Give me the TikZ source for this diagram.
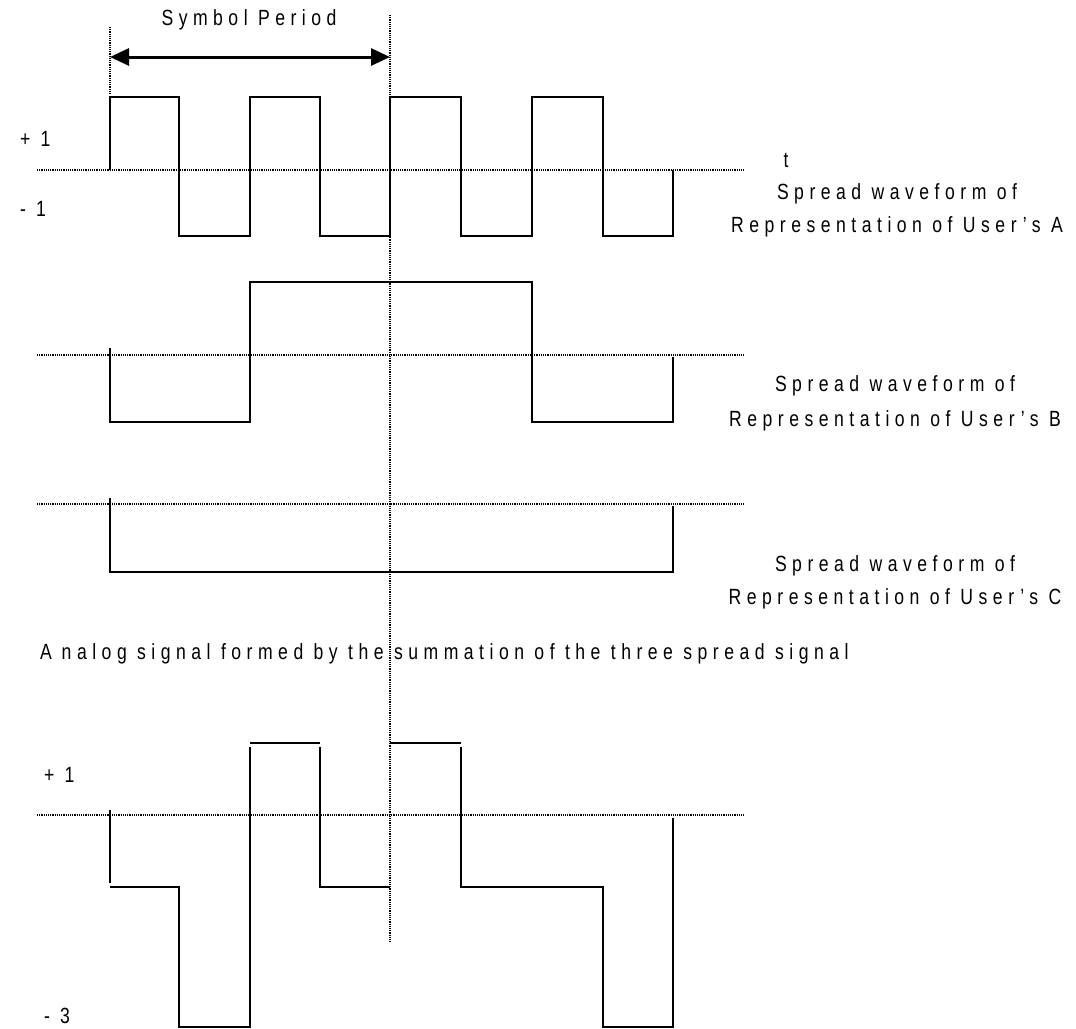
\documentclass[tikz,border=0pt]{standalone}
\usepackage{fontspec}
\setmainfont{Liberation Sans}[FakeStretch=0.8, LetterSpace=25]
\usetikzlibrary{arrows.meta}

\begin{document}
\begin{tikzpicture}[x=1pt, y=-1pt,
  every node/.style={inner sep=0pt, outer sep=0pt, font=\fontsize{22}{26}\selectfont},
  wave/.style={line width=1.8pt},
  zero/.style={line width=2.3pt, dash pattern=on 1.1pt off 1.1pt},
  period/.style={line width=3pt, {Triangle[length=19pt,width=17pt]}-{Triangle[length=19pt,width=17pt]}}]
\useasboundingbox (0,0) rectangle (1076,1028);

% symbol period
\coordinate (spL) at (110,57);
\coordinate (spR) at (390,57);
\draw[zero] (110,27) -- (110,95);
\draw[zero] (390,15) -- (390,943);
\draw[period] (spL) -- (spR);
\node[anchor=base] (sp) at (249,25) {Symbol Period};

% zero lines
\draw[zero] (37,170) -- (745,170);
\draw[zero] (37,355) -- (745,355);
\draw[zero] (37,504) -- (745,504);
\draw[zero] (37,815) -- (745,815);

% user A
\draw[wave] (110,170) -- (110,97) -- (179,97) -- (179,236) -- (250,236) -- (250,97)
  -- (320,97) -- (320,236) -- (390,236) -- (390,97) -- (461,97) -- (461,236)
  -- (532,236) -- (532,97) -- (603,97) -- (603,236) -- (673,236) -- (673,170);
\node[anchor=base west] (pA) at (20,146) {+ 1};
\node[anchor=base west] (mA) at (20,216) {- 1};
\node[anchor=base] (t) at (786,167) {t};
\node[anchor=base] (lblA1) at (897,199) {Spread waveform of};
\node[anchor=base] (lblA2) at (897,232) {Representation of User's A};

% user B
\draw[wave] (110,348) -- (110,422) -- (250,422) -- (250,282) -- (532,282)
  -- (532,422) -- (673,422) -- (673,357);
\node[anchor=base] (lblB1) at (895,391) {Spread waveform of};
\node[anchor=base] (lblB2) at (895,426) {Representation of User's B};

% user C
\draw[wave] (110,498) -- (110,572) -- (673,572) -- (673,506);
\node[anchor=base] (lblC1) at (895,571) {Spread waveform of};
\node[anchor=base] (lblC2) at (895,604) {Representation of User's C};

% sum of the three
\node[anchor=base west] (sum) at (40,659) {A\kern10pt nalog signal formed by the summation of the three spread signal};
\draw[wave] (110,810) -- (110,883);
\draw[wave] (110,887) -- (179,887) -- (179,1027) -- (250,1027) -- (250,747);
\draw[wave] (250,743) -- (320,743);
\draw[wave] (320,747) -- (320,887) -- (390,887);
\draw[wave] (390,743) -- (461,743);
\draw[wave] (461,747) -- (461,887) -- (603,887) -- (603,1027) -- (673,1027) -- (673,818);
\node[anchor=base west] (pS) at (44,782) {+ 1};
\node[anchor=base west] (mS) at (44,1023) {- 3};
\end{tikzpicture}
\end{document}
